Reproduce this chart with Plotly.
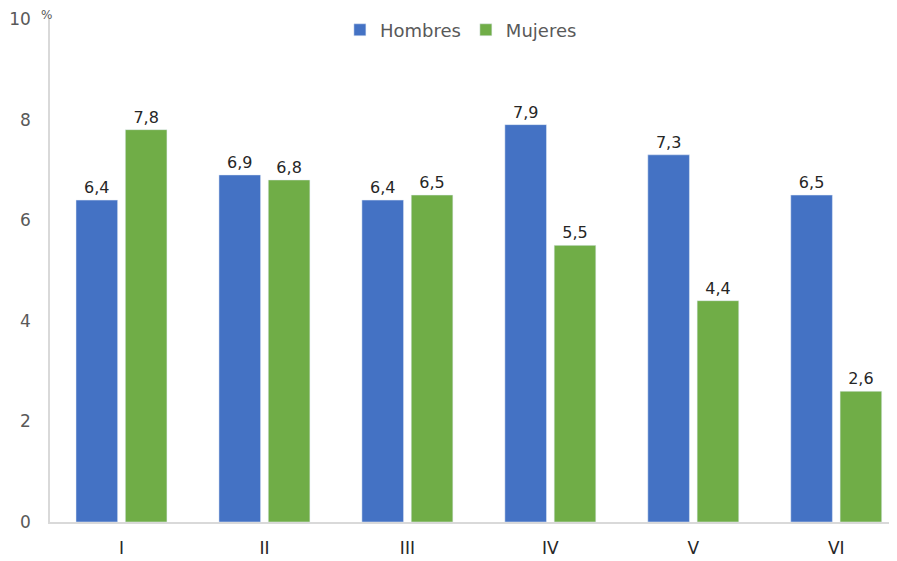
import plotly.graph_objects as go

categorias = ['I', 'II', 'III', 'IV', 'V', 'VI']
hombres = [6.4, 6.9, 6.4, 7.9, 7.3, 6.5]
mujeres = [7.8, 6.8, 6.5, 5.5, 4.4, 2.6]

fuente = 'DejaVu Sans, sans-serif'


def etiquetas(vals):
    return [f'{v:.1f}'.replace('.', ',') for v in vals]


fig = go.Figure()
fig.add_trace(go.Bar(x=categorias, y=hombres, name='Hombres',
                     marker_color='#4472C4',
                     text=etiquetas(hombres), textposition='outside',
                     textfont=dict(size=16, color='#262626'), cliponaxis=False))
fig.add_trace(go.Bar(x=categorias, y=mujeres, name='Mujeres',
                     marker_color='#70AD47',
                     text=etiquetas(mujeres), textposition='outside',
                     textfont=dict(size=16, color='#262626'), cliponaxis=False))

# the page body has an 8px margin, so the figure is a bit smaller than the window
fig.update_layout(
    width=889, height=553,
    barmode='group', bargap=0.31, bargroupgap=0.156,
    plot_bgcolor='white', paper_bgcolor='white',
    font=dict(family=fuente, color='#595959', size=17),
    margin=dict(l=42, r=5, t=10, b=39),
    legend=dict(orientation='h', x=0.488, xanchor='center', y=0.976, yanchor='middle',
                font=dict(size=18, color='#595959'), itemwidth=30,
                bgcolor='rgba(0,0,0,0)'),
    xaxis=dict(range=[-0.5, 5.39], showline=True, linecolor='#D9D9D9', linewidth=1.5,
               ticks='', tickfont=dict(size=17, color='#262626'), showgrid=False,
               automargin=False, ticklabelstandoff=10),
    yaxis=dict(range=[0, 10], dtick=2, showline=True, linecolor='#D9D9D9', linewidth=1.5,
               showgrid=False, zeroline=False, ticks='', ticklabelstandoff=14,
               automargin=False, tickfont=dict(size=17, color='#595959')),
    annotations=[dict(text='%', xref='paper', yref='paper', x=-0.004, y=0.99,
                      xanchor='center', yanchor='bottom', showarrow=False,
                      font=dict(size=12, color='#595959'))],
)

fig.write_html('out.html')
